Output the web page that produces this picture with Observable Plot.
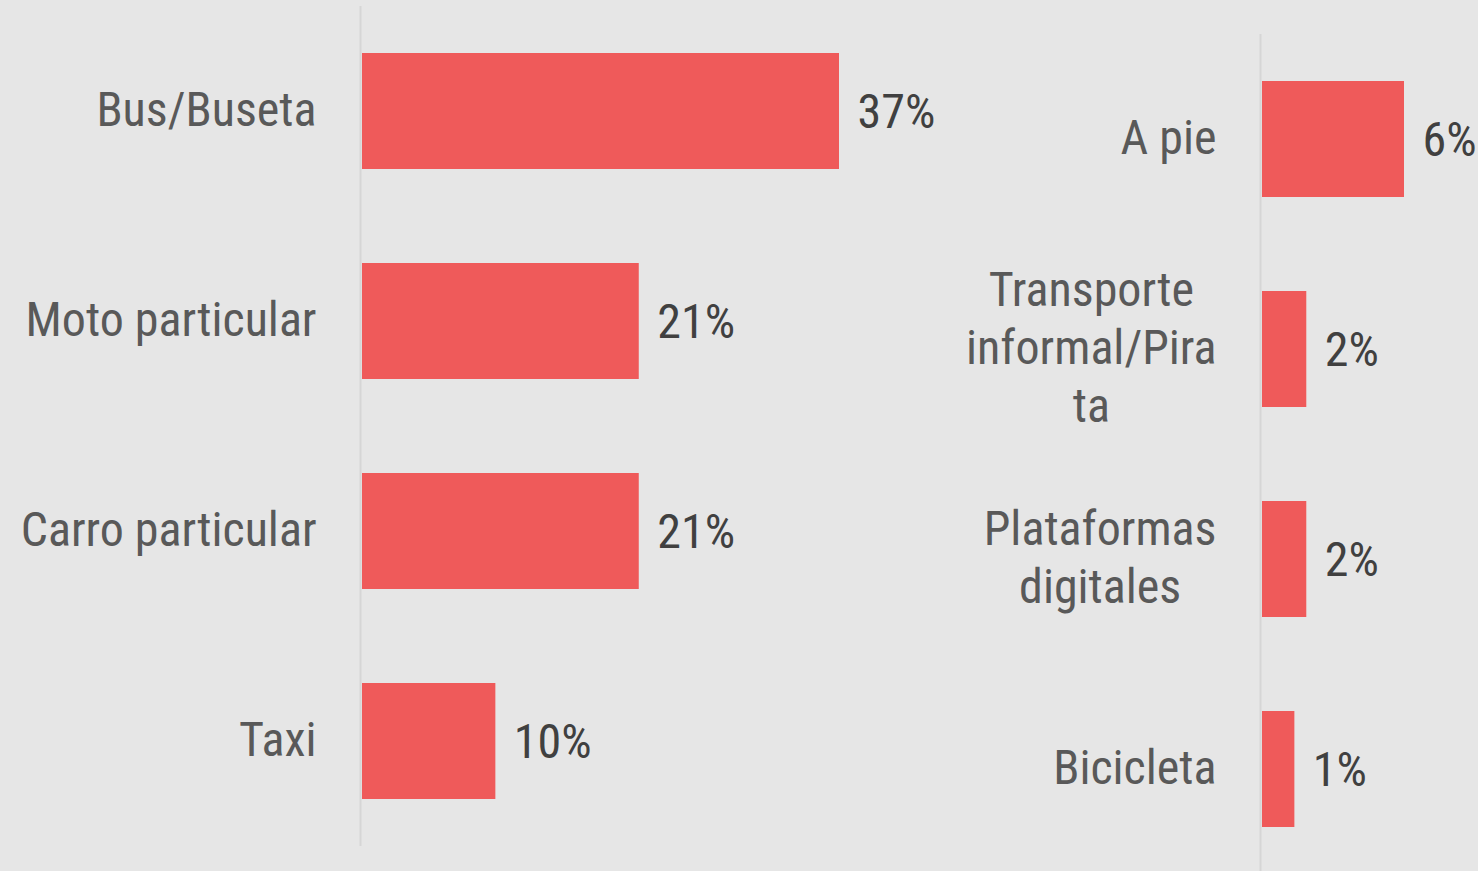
<!DOCTYPE html>
<html>
<head>
<meta charset="utf-8">
<script src="https://cdn.jsdelivr.net/npm/d3@7"></script>
<script src="https://cdn.jsdelivr.net/npm/@observablehq/plot@0.6"></script>
<style>
  html, body { margin: 0; padding: 0; background: #e6e6e6; }
  #wrap { position: relative; width: 1478px; height: 871px; background: #e6e6e6; overflow: hidden; }
  #left, #right { position: absolute; top: 0; }
  #left { left: 0; }
  #right { left: 940px; }
  svg text { font-family: "Roboto Condensed", "Roboto", sans-serif; font-stretch: condensed; }
</style>
</head>
<body>
<div id="wrap"><div id="left"></div><div id="right"></div></div>
<script>
// Left panel
const leftCategories = ["Bus/Buseta", "Moto particular", "Carro particular", "Taxi"];
const leftValues = [37, 21.5, 21.5, 10.4];
const leftLabels = ["37%", "21%", "21%", "10%"];

// Right panel
const rightCategories = ["A pie", "Transporte\ninformal/Pira\nta", "Plataformas\ndigitales", "Bicicleta"];
const rightValues = [6, 1.9, 1.9, 1.4];
const rightLabels = ["6%", "2%", "2%", "1%"];

const BAR = "#ef5a5a";
const FONT = "\"Roboto Condensed\", Roboto, sans-serif";

function panel({categories, values, labels, width, marginLeft, marginRight, marginTop, marginBottom, range}) {
  const data = categories.map((c, i) => ({cat: c, value: values[i], label: labels[i]}));
  return Plot.plot({
    width, height: 871,
    marginLeft, marginRight, marginTop, marginBottom,
    style: {background: "transparent", fontFamily: FONT, overflow: "visible"},
    x: {domain: [0, d3.max(values)], axis: null},
    y: {domain: categories, range, paddingInner: 0.45, paddingOuter: 0.225, label: null},
    marks: [
      Plot.ruleX([0], {stroke: "#d6d6d6", strokeWidth: 2, dx: -1}),
      Plot.barX(data, {x: "value", y: "cat", fill: BAR, insetLeft: 1}),
      Plot.text(data, {x: "value", y: "cat", text: "label", textAnchor: "start", dx: 18, dy: 1, fontSize: 48, fill: "#404040"}),
      Plot.axisY({tickSize: 0, tickPadding: 45, dy: -4, fontSize: 48, lineHeight: 1.2, fill: "#595959", label: null})
    ]
  });
}

const left = panel({categories: leftCategories, values: leftValues, labels: leftLabels,
  width: 960, marginLeft: 361, marginRight: 121, marginTop: 6, marginBottom: 25, range: [6, 846]});
document.getElementById("left").appendChild(left);

const right = panel({categories: rightCategories, values: rightValues, labels: rightLabels,
  width: 538, marginLeft: 321, marginRight: 74, marginTop: 34, marginBottom: 0, range: [34, 874]});
document.getElementById("right").appendChild(right);

// Center the lines of multi-line tick labels within their right-aligned block
right.querySelectorAll("g[aria-label='y-axis tick label'] text").forEach(t => {
  const spans = t.querySelectorAll("tspan");
  if (spans.length < 2) return;
  let maxW = 0;
  spans.forEach(s => { maxW = Math.max(maxW, s.getComputedTextLength()); });
  t.setAttribute("text-anchor", "middle");
  spans.forEach(s => s.setAttribute("x", -maxW / 2));
});
</script>
</body>
</html>
